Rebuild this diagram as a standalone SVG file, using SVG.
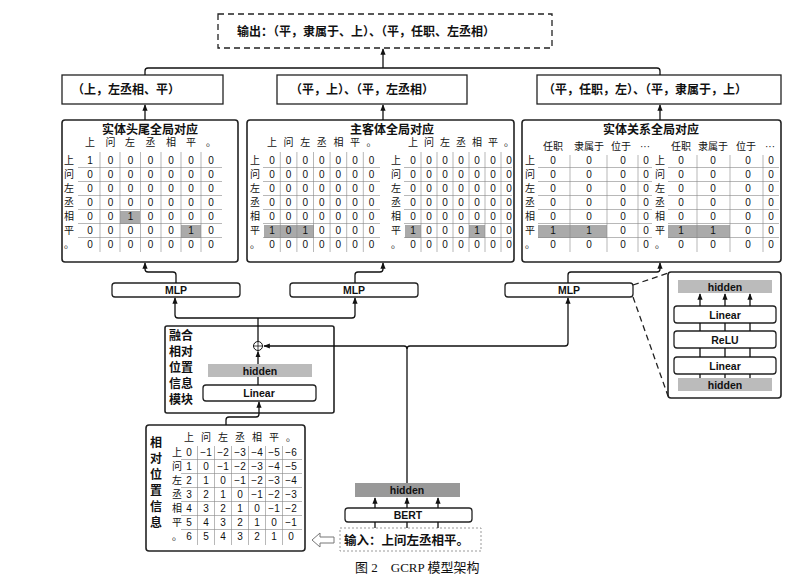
<svg xmlns="http://www.w3.org/2000/svg" width="810" height="581" viewBox="0 0 810 581">
<defs>
<marker id="ar" viewBox="0 0 10 10" refX="9" refY="5" markerWidth="5" markerHeight="5" orient="auto"><path d="M0,1 L10,5 L0,9 z" fill="#111"/></marker>
<style>
text{font-family:"Liberation Sans","Noto Sans CJK SC",sans-serif;fill:#111}
.b{font-weight:bold}
.c{font-size:10px;text-anchor:middle}
.h{font-size:10px;text-anchor:middle}
.bx{fill:#fff;stroke:#222;stroke-width:1.3}
.pn{fill:#fff;stroke:#222;stroke-width:1.6}
.g{stroke:#888;stroke-width:0.6}
.hl{fill:#aaa}
.gr{fill:#bbb}
.ln{fill:none;stroke:#111;stroke-width:1.3}
.la{fill:none;stroke:#111;stroke-width:1.3;marker-end:url(#ar)}
.ds{fill:none;stroke:#222;stroke-width:1.3;stroke-dasharray:6 4}
</style>
</defs>
<rect width="810" height="581" fill="#fff"/>

<g id="output"><rect x="218" y="14" width="334" height="34" class="ds"/><text x="237" y="36" font-size="12" class="b">输出：（平，隶属于、上）、（平，任职、左丞相）</text></g>
<g id="res1"><rect x="62" y="75" width="161" height="29" class="bx"/><text x="72" y="94" font-size="12" class="b">（上，左丞相、平）</text></g>
<g id="res2"><rect x="277" y="75" width="190" height="29" class="bx"/><text x="290" y="94" font-size="12" class="b">（平，上）、（平，左丞相）</text></g>
<g id="res3"><rect x="537" y="75" width="244" height="29" class="bx"/><text x="543" y="94" font-size="12" class="b">（平，任职，左）、（平，隶属于，上）</text></g>

<g id="panel1">
<rect x="62" y="120" width="176" height="142" rx="3" class="pn"/>
<text x="150" y="134" font-size="12" class="b" text-anchor="middle">实体头尾全局对应</text>
<rect x="120" y="211" width="20" height="13" class="hl"/><rect x="181" y="225" width="20" height="13" class="hl"/>
<text class="h" y="146"><tspan x="90">上</tspan><tspan x="110.5">问</tspan><tspan x="130">左</tspan><tspan x="150.5">丞</tspan><tspan x="171">相</tspan><tspan x="191">平</tspan><tspan x="211">。</tspan></text>
<g font-size="10"><text x="64" y="164">上</text><text x="64" y="178">问</text><text x="64" y="192">左</text><text x="64" y="206">丞</text><text x="64" y="220">相</text><text x="64" y="234">平</text><text x="64" y="248">。</text></g>
<g class="c"><text class="c" y="164" x="90 110.5 130.5 150.5 171 191 211">1000000</text>
<text class="c" y="178" x="90 110.5 130.5 150.5 171 191 211">0000000</text>
<text class="c" y="192" x="90 110.5 130.5 150.5 171 191 211">0000000</text>
<text class="c" y="206" x="90 110.5 130.5 150.5 171 191 211">0000000</text>
<text class="c" y="220" x="90 110.5 130.5 150.5 171 191 211">0010000</text>
<text class="c" y="234" x="90 110.5 130.5 150.5 171 191 211">0000010</text>
<text class="c" y="248" x="90 110.5 130.5 150.5 171 191 211">0000000</text></g>
<path class="g" d="M78,167.5H222M78,181.5H222M78,195.5H222M78,209.5H222M78,223.5H222M78,237.5H222M100,152V252M120,152V252M140.5,152V252M161,152V252M181,152V252M201,152V252"/>
</g>

<g id="panel2">
<rect x="247" y="120" width="267" height="142" rx="3" class="pn"/>
<text x="392" y="134" font-size="12" class="b" text-anchor="middle">主客体全局对应</text>
<rect x="264" y="225" width="50" height="13" class="hl"/><rect x="405" y="225" width="16" height="13" class="hl"/><rect x="469" y="225" width="16" height="13" class="hl"/>
<text class="h" y="146" x="272 288.6 305.2 321.8 338.4 355 371.6">上问左丞相平。</text>
<text class="h" y="146" x="413 429 445 461 477 493 509">上问左丞相平。</text>
<g font-size="10"><text x="250" y="164">上</text><text x="250" y="178">问</text><text x="250" y="192">左</text><text x="250" y="206">丞</text><text x="250" y="220">相</text><text x="250" y="234">平</text><text x="250" y="248">。</text>
<text x="391" y="164">上</text><text x="391" y="178">问</text><text x="391" y="192">左</text><text x="391" y="206">丞</text><text x="391" y="220">相</text><text x="391" y="234">平</text><text x="391" y="248">。</text></g>
<text class="c" y="164" x="272 288.6 305.2 321.8 338.4 355 371.6">0000000</text>
<text class="c" y="178" x="272 288.6 305.2 321.8 338.4 355 371.6">0000000</text>
<text class="c" y="192" x="272 288.6 305.2 321.8 338.4 355 371.6">0000000</text>
<text class="c" y="206" x="272 288.6 305.2 321.8 338.4 355 371.6">0000000</text>
<text class="c" y="220" x="272 288.6 305.2 321.8 338.4 355 371.6">0000000</text>
<text class="c" y="234" x="272 288.6 305.2 321.8 338.4 355 371.6">1010000</text>
<text class="c" y="248" x="272 288.6 305.2 321.8 338.4 355 371.6">0000000</text>
<text class="c" y="164" x="413 429 445 461 477 493 509">0000000</text>
<text class="c" y="178" x="413 429 445 461 477 493 509">0000000</text>
<text class="c" y="192" x="413 429 445 461 477 493 509">0000000</text>
<text class="c" y="206" x="413 429 445 461 477 493 509">0000000</text>
<text class="c" y="220" x="413 429 445 461 477 493 509">0000000</text>
<text class="c" y="234" x="413 429 445 461 477 493 509">1000100</text>
<text class="c" y="248" x="413 429 445 461 477 493 509">0000000</text>
<path class="g" d="M263,167.5H380M263,181.5H380M263,195.5H380M263,209.5H380M263,223.5H380M263,237.5H380M280.3,152V252M296.9,152V252M313.5,152V252M330.1,152V252M346.7,152V252M363.3,152V252"/>
<path class="g" d="M404,167.5H512M404,181.5H512M404,195.5H512M404,209.5H512M404,223.5H512M404,237.5H512M421,152V252M437,152V252M453,152V252M469,152V252M485,152V252M501,152V252"/>
</g>

<g id="panel3">
<rect x="522" y="120" width="259" height="142" rx="3" class="pn"/>
<text x="651" y="134" font-size="12" class="b" text-anchor="middle">实体关系全局对应</text>
<rect x="538" y="225" width="69" height="13" class="hl"/><rect x="668" y="225" width="62" height="13" class="hl"/>
<g class="h"><text class="h" x="553" y="150">任职</text><text class="h" x="589" y="150">隶属于</text><text class="h" x="621" y="150">位于</text><text class="h" x="645" y="150">···</text>
<text class="h" x="681" y="150">任职</text><text class="h" x="713" y="150">隶属于</text><text class="h" x="746" y="150">位于</text><text class="h" x="770" y="150">···</text></g>
<g font-size="10"><text x="525" y="164">上</text><text x="525" y="178">问</text><text x="525" y="192">左</text><text x="525" y="206">丞</text><text x="525" y="220">相</text><text x="525" y="234">平</text><text x="525" y="248">。</text>
<text x="655" y="164">上</text><text x="655" y="178">问</text><text x="655" y="192">左</text><text x="655" y="206">丞</text><text x="655" y="220">相</text><text x="655" y="234">平</text><text x="655" y="248">。</text></g>
<text class="c" y="164" x="553 589 623 646">0000</text><text class="c" y="178" x="553 589 623 646">0000</text><text class="c" y="192" x="553 589 623 646">0000</text><text class="c" y="206" x="553 589 623 646">0000</text><text class="c" y="220" x="553 589 623 646">0000</text><text class="c" y="234" x="553 589 623 646">1100</text><text class="c" y="248" x="553 589 623 646">0000</text>
<text class="c" y="164" x="681 713 748 771">0000</text><text class="c" y="178" x="681 713 748 771">0000</text><text class="c" y="192" x="681 713 748 771">0000</text><text class="c" y="206" x="681 713 748 771">0000</text><text class="c" y="220" x="681 713 748 771">0000</text><text class="c" y="234" x="681 713 748 771">1100</text><text class="c" y="248" x="681 713 748 771">0000</text>
<path class="g" d="M538,167.5H652M538,181.5H652M538,195.5H652M538,209.5H652M538,223.5H652M538,237.5H652M570,155V252M607,155V252M638,155V252"/>
<path class="g" d="M668,167.5H779M668,181.5H779M668,195.5H779M668,209.5H779M668,223.5H779M668,237.5H779M697,155V252M730,155V252M763,155V252"/>
</g>

<g id="mlp1"><rect x="112" y="283" width="128" height="14" rx="3" class="bx"/><text x="176" y="294" font-size="10.5" class="b" text-anchor="middle">MLP</text></g>
<g id="mlp2"><rect x="290" y="283" width="128" height="14" rx="3" class="bx"/><text x="354" y="294" font-size="10.5" class="b" text-anchor="middle">MLP</text></g>
<g id="mlp3"><rect x="505" y="283" width="128" height="14" rx="3" class="bx"/><text x="569" y="294" font-size="10.5" class="b" text-anchor="middle">MLP</text></g>

<g id="fusion">
<rect x="165" y="326" width="169" height="87" rx="2" class="pn"/>
<g font-size="12" class="b"><text x="169" y="340">融合</text><text x="169" y="356">相对</text><text x="169" y="372">位置</text><text x="169" y="388">信息</text><text x="169" y="404">模块</text></g>
<circle cx="258" cy="346" r="4.5" fill="#fff" stroke="#111"/><path d="M253.5,346H262.5M258,341.5V350.5" stroke="#111" stroke-width="0.8"/>
<rect x="208" y="364" width="104" height="13" class="gr"/><text x="260" y="374.5" font-size="10.5" class="b" text-anchor="middle">hidden</text>
<rect x="203" y="385" width="113" height="16" rx="3" class="bx"/><text x="259" y="397" font-size="10.5" class="b" text-anchor="middle">Linear</text>
</g>

<g id="relpos">
<rect x="146" y="425" width="159" height="126" rx="3" class="pn"/>
<g font-size="12" class="b"><text x="150" y="447">相</text><text x="150" y="463">对</text><text x="150" y="479">位</text><text x="150" y="495">置</text><text x="150" y="511">信</text><text x="150" y="527">息</text></g>
<text class="h" y="441" x="189 206 223 240 257 274 291">上问左丞相平。</text>
<g font-size="10"><text x="172" y="456">上</text><text x="172" y="470">问</text><text x="172" y="484">左</text><text x="172" y="498">丞</text><text x="172" y="512">相</text><text x="172" y="526">平</text><text x="172" y="540">。</text></g>
<g class="c">
<text class="c" x="189" y="456">0</text><text class="c" x="206" y="456">−1</text><text class="c" x="223" y="456">−2</text><text class="c" x="240" y="456">−3</text><text class="c" x="257" y="456">−4</text><text class="c" x="274" y="456">−5</text><text class="c" x="291" y="456">−6</text>
<text class="c" x="189" y="470">1</text><text class="c" x="206" y="470">0</text><text class="c" x="223" y="470">−1</text><text class="c" x="240" y="470">−2</text><text class="c" x="257" y="470">−3</text><text class="c" x="274" y="470">−4</text><text class="c" x="291" y="470">−5</text>
<text class="c" x="189" y="484">2</text><text class="c" x="206" y="484">1</text><text class="c" x="223" y="484">0</text><text class="c" x="240" y="484">−1</text><text class="c" x="257" y="484">−2</text><text class="c" x="274" y="484">−3</text><text class="c" x="291" y="484">−4</text>
<text class="c" x="189" y="498">3</text><text class="c" x="206" y="498">2</text><text class="c" x="223" y="498">1</text><text class="c" x="240" y="498">0</text><text class="c" x="257" y="498">−1</text><text class="c" x="274" y="498">−2</text><text class="c" x="291" y="498">−3</text>
<text class="c" x="189" y="512">4</text><text class="c" x="206" y="512">3</text><text class="c" x="223" y="512">2</text><text class="c" x="240" y="512">1</text><text class="c" x="257" y="512">0</text><text class="c" x="274" y="512">−1</text><text class="c" x="291" y="512">−2</text>
<text class="c" x="189" y="526">5</text><text class="c" x="206" y="526">4</text><text class="c" x="223" y="526">3</text><text class="c" x="240" y="526">2</text><text class="c" x="257" y="526">1</text><text class="c" x="274" y="526">0</text><text class="c" x="291" y="526">−1</text>
<text class="c" x="189" y="540">6</text><text class="c" x="206" y="540">5</text><text class="c" x="223" y="540">4</text><text class="c" x="240" y="540">3</text><text class="c" x="257" y="540">2</text><text class="c" x="274" y="540">1</text><text class="c" x="291" y="540">0</text>
</g>
<path class="g" d="M181,459.5H302M181,473.5H302M181,487.5H302M181,501.5H302M181,515.5H302M181,529.5H302M197.5,446V545M214.5,446V545M231.5,446V545M248.5,446V545M265.5,446V545M282.5,446V545"/>
</g>

<g id="bert">
<rect x="355" y="483" width="105" height="14" fill="#999"/><text x="407" y="494" font-size="10.5" class="b" text-anchor="middle">hidden</text>
<rect x="345" y="508" width="127" height="14" rx="3" class="bx"/><text x="408" y="519" font-size="10.5" class="b" text-anchor="middle">BERT</text>
</g>
<g id="input"><rect x="340" y="528" width="141" height="23" fill="#fff" stroke="#999" stroke-width="1" stroke-dasharray="2 2"/><text x="344" y="545" font-size="12.5" class="b">输入：上问左丞相平。</text></g>
<polygon points="312,540 320,533 320,537 334,537 334,543 320,543 320,547" fill="#fff" stroke="#777" stroke-width="1"/>

<g id="detail">
<rect x="668" y="272" width="113" height="126" rx="3" class="pn"/>
<rect x="678" y="280" width="94" height="13" class="gr"/><text x="725" y="290.5" font-size="10.5" class="b" text-anchor="middle">hidden</text>
<rect x="674" y="306" width="102" height="17" rx="3" class="bx"/><text x="725" y="318.5" font-size="10.5" class="b" text-anchor="middle">Linear</text>
<rect x="674" y="331" width="102" height="17" rx="3" class="bx"/><text x="725" y="343.5" font-size="10.5" class="b" text-anchor="middle">ReLU</text>
<rect x="674" y="357" width="102" height="17" rx="3" class="bx"/><text x="725" y="369.5" font-size="10.5" class="b" text-anchor="middle">Linear</text>
<rect x="678" y="378" width="94" height="13" class="gr"/><text x="725" y="388.5" font-size="10.5" class="b" text-anchor="middle">hidden</text>
</g>

<g id="connectors">
<path class="la" d="M383,68V49"/>
<path class="ln" d="M145,75V71Q145,68 148,68H657Q660,68 660,71V75"/>
<path class="la" d="M145,120V105"/><path class="la" d="M383,120V105"/><path class="la" d="M660,120V105"/>
<path class="la" d="M176,283V275Q176,272 173,272H148Q145,272 145,269V263"/>
<path class="la" d="M355,283V275Q355,272 358,272H380Q383,272 383,269V263"/>
<path class="la" d="M568,283V275Q568,272 571,272H657Q660,272 660,269V263"/>
<path class="ln" d="M258,341V318"/>
<path class="la" d="M258,318H178Q175,318 175,315V298"/>
<path class="la" d="M258,318H352Q355,318 355,315V298"/>
<path class="la" d="M258,364V351.5"/>
<path class="ln" d="M258,385V377"/>
<path class="ln" d="M407,483V349Q407,346 404,346"/>
<path class="la" d="M404,346H264"/>
<path class="la" d="M407,349Q407,346 410,346H565Q568,346 568,343V298"/>
<path class="la" d="M226,425V420Q226,417 229,417H256Q259,417 259,414V402"/>
<path class="la" d="M375,508V498"/><path class="la" d="M407,508V498"/><path class="la" d="M438,508V498"/>
<path class="ln" d="M375,528V522M407,528V522M438,528V522"/>
<path class="la" d="M700,306V294"/><path class="la" d="M725,306V294"/><path class="la" d="M750,306V294"/>
<path class="ln" d="M700,323V331M725,323V331M750,323V331M700,348V357M725,348V357M750,348V357M700,374V378M725,374V378M750,374V378"/>
<path class="ds" d="M633,285L668,273M633,297L668,396"/>
</g>
<text x="355" y="572" font-size="13" fill="#333" style="font-family:'Liberation Serif','Noto Sans CJK SC',serif">图 2　GCRP 模型架构</text>
</svg>
